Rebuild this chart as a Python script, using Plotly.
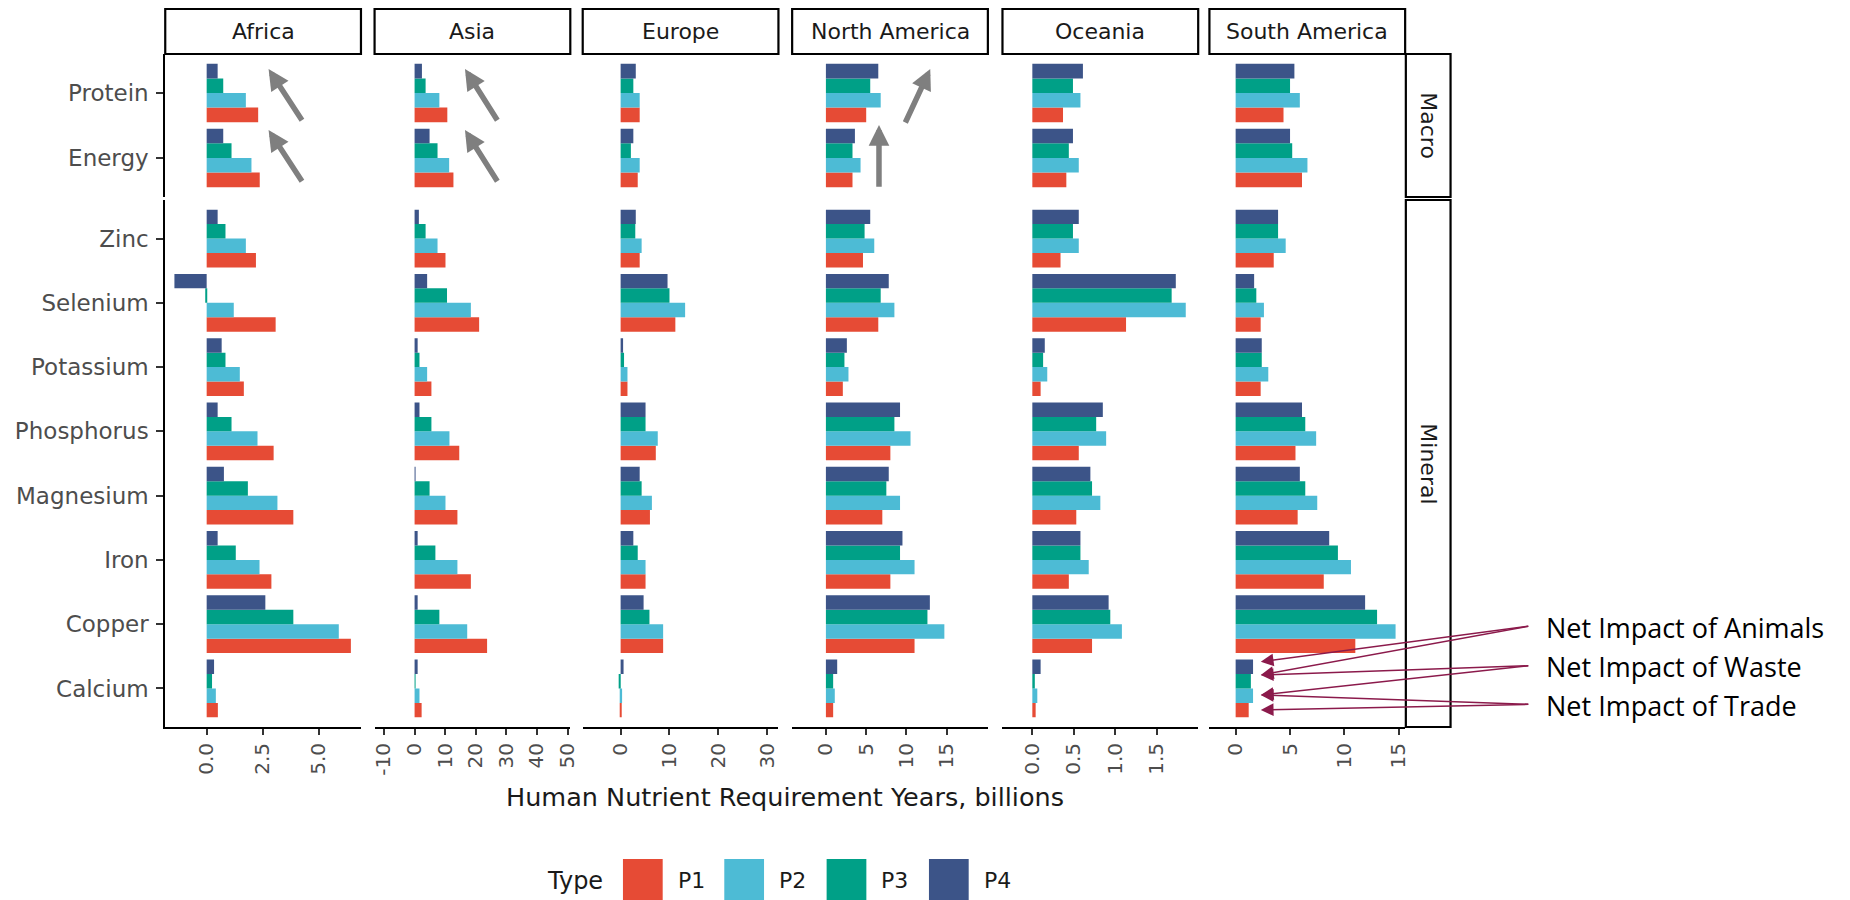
import plotly.graph_objects as go

W, H = 1850, 900

# ---- data -------------------------------------------------------------
regions = ["Africa", "Asia", "Europe", "North America", "Oceania", "South America"]
types = ["P1", "P2", "P3", "P4"]
type_colors = ["#E64B35", "#4DBBD5", "#00A087", "#3C5488"]

macro = ["Protein", "Energy"]
mineral = ["Zinc", "Selenium", "Potassium", "Phosphorus", "Magnesium",
           "Iron", "Copper", "Calcium"]
nutrients = macro + mineral

# values follow the order of `nutrients`
africa_p1 = [2.30, 2.37, 2.20, 3.08, 1.66, 2.99, 3.87, 2.89, 6.44, 0.50]
africa_p2 = [1.75, 2.00, 1.75, 1.21, 1.48, 2.27, 3.16, 2.36, 5.90, 0.41]
africa_p3 = [0.74, 1.11, 0.84, -0.05, 0.84, 1.11, 1.84, 1.30, 3.87, 0.24]
africa_p4 = [0.49, 0.74, 0.49, -1.44, 0.67, 0.49, 0.77, 0.49, 2.62, 0.33]

asia_p1 = [10.7, 12.7, 10.1, 21.1, 5.5, 14.6, 14.0, 18.4, 23.7, 2.3]
asia_p2 = [8.1, 11.3, 7.5, 18.4, 4.1, 11.4, 10.1, 14.0, 17.2, 1.6]
asia_p3 = [3.6, 7.5, 3.6, 10.6, 1.6, 5.5, 4.9, 6.8, 8.1, 0.2]
asia_p4 = [2.4, 4.9, 1.4, 4.1, 1.0, 1.6, 0.3, 1.0, 1.0, 1.0]

europe_p1 = [3.9, 3.5, 3.9, 11.2, 1.4, 7.2, 6.0, 5.1, 8.7, 0.15]
europe_p2 = [3.9, 3.9, 4.3, 13.2, 1.4, 7.6, 6.4, 5.1, 8.7, 0.3]
europe_p3 = [2.6, 2.1, 3.0, 10.0, 0.7, 5.1, 4.3, 3.5, 5.9, -0.4]
europe_p4 = [3.1, 2.6, 3.1, 9.6, 0.5, 5.1, 3.9, 2.6, 4.7, 0.6]

north_america_p1 = [5.0, 3.3, 4.6, 6.5, 2.1, 8.0, 7.0, 8.0, 11.0, 0.9]
north_america_p2 = [6.8, 4.3, 6.0, 8.5, 2.8, 10.5, 9.2, 11.0, 14.7, 1.1]
north_america_p3 = [5.5, 3.3, 4.8, 6.8, 2.3, 8.5, 7.5, 9.2, 12.6, 0.9]
north_america_p4 = [6.5, 3.6, 5.5, 7.8, 2.6, 9.2, 7.8, 9.5, 12.9, 1.4]

oceania_p1 = [0.37, 0.41, 0.34, 1.13, 0.10, 0.56, 0.53, 0.44, 0.72, 0.04]
oceania_p2 = [0.58, 0.56, 0.56, 1.85, 0.18, 0.89, 0.82, 0.68, 1.08, 0.06]
oceania_p3 = [0.49, 0.44, 0.49, 1.68, 0.13, 0.77, 0.72, 0.58, 0.94, 0.03]
oceania_p4 = [0.61, 0.49, 0.56, 1.73, 0.15, 0.85, 0.70, 0.58, 0.92, 0.10]

south_america_p1 = [4.4, 6.1, 3.5, 2.3, 2.3, 5.5, 5.7, 8.1, 11.0, 1.2]
south_america_p2 = [5.9, 6.6, 4.6, 2.6, 3.0, 7.4, 7.5, 10.6, 14.7, 1.6]
south_america_p3 = [5.0, 5.2, 3.9, 1.9, 2.4, 6.4, 6.4, 9.4, 13.0, 1.4]
south_america_p4 = [5.4, 5.0, 3.9, 1.7, 2.4, 6.1, 5.9, 8.6, 11.9, 1.6]

series = {
    "Africa": [africa_p1, africa_p2, africa_p3, africa_p4],
    "Asia": [asia_p1, asia_p2, asia_p3, asia_p4],
    "Europe": [europe_p1, europe_p2, europe_p3, europe_p4],
    "North America": [north_america_p1, north_america_p2, north_america_p3, north_america_p4],
    "Oceania": [oceania_p1, oceania_p2, oceania_p3, oceania_p4],
    "South America": [south_america_p1, south_america_p2, south_america_p3, south_america_p4],
}

# x tick positions / labels per column
africa_ticks = [0, 2.5, 5.0]
africa_ticktext = ["0.0", "2.5", "5.0"]
asia_ticks = [-10, 0, 10, 20, 30, 40, 50]
asia_ticktext = ["-10", "0", "10", "20", "30", "40", "50"]
europe_ticks = [0, 10, 20, 30]
europe_ticktext = ["0", "10", "20", "30"]
north_america_ticks = [0, 5, 10, 15]
north_america_ticktext = ["0", "5", "10", "15"]
oceania_ticks = [0, 0.5, 1.0, 1.5]
oceania_ticktext = ["0.0", "0.5", "1.0", "1.5"]
south_america_ticks = [0, 5, 10, 15]
south_america_ticktext = ["0", "5", "10", "15"]

x_ticks = [africa_ticks, asia_ticks, europe_ticks, north_america_ticks,
           oceania_ticks, south_america_ticks]
x_ticktext = [africa_ticktext, asia_ticktext, europe_ticktext,
              north_america_ticktext, oceania_ticktext, south_america_ticktext]
x_ranges = [[-1.85, 6.89], [-13.08, 50.9], [-7.76, 32.3],
            [-4.19, 20.1], [-0.36, 2.0], [-2.41, 15.58]]

row_labels = ["Macro", "Mineral"]
x_title = "Human Nutrient Requirement Years, billions"
callouts = ["Net Impact of Animals", "Net Impact of Waste", "Net Impact of Trade"]

# ---- layout geometry (pixels) ------------------------------------------
col_left = [163.3, 374.0, 583.5, 794.3, 1006.0, 1214.3]
col_w = 197.0
rows = [(54.0, 197.0, macro), (200.0, 727.0, mineral)]
strip_top = 9.0
strip_right = (1412.0, 1457.0)

FONT = "DejaVu Sans"
TXT = "#4D4D4D"


def fx(px):
    return px / W


def fy(py):
    return 1 - py / H


fig = go.Figure()
layout = dict(
    width=W, height=H,
    margin=dict(l=0, r=0, t=0, b=0),
    paper_bgcolor="white", plot_bgcolor="white",
    barmode="group", bargap=0.1, bargroupgap=0.0,
    showlegend=False,
    font=dict(family=FONT, color=TXT),
)

for r, (top, bottom, cats) in enumerate(rows):
    for c, region in enumerate(regions):
        k = r * 6 + c + 1
        xname = "x" if k == 1 else f"x{k}"
        yname = "y" if k == 1 else f"y{k}"
        for t, (tname, color) in enumerate(zip(types, type_colors)):
            vals = series[region][t]
            xs = [vals[nutrients.index(n)] for n in cats]
            fig.add_trace(go.Bar(
                y=cats, x=xs, orientation="h", name=tname,
                marker=dict(color=color, line=dict(width=0)),
                xaxis=xname, yaxis=yname, showlegend=False,
            ))
        bottom_row = (r == len(rows) - 1)
        xa = dict(
            domain=[fx(col_left[c]), fx(col_left[c] + col_w)],
            anchor=yname, range=x_ranges[c],
            showgrid=False, zeroline=False, fixedrange=True,
        )
        if bottom_row:
            xa.update(
                showline=True, linecolor="black", linewidth=2,
                ticks="outside", ticklen=6, tickwidth=1.5, tickcolor="#333333",
                tickmode="array", tickvals=x_ticks[c], ticktext=x_ticktext[c],
                tickangle=-90, tickfont=dict(family=FONT, size=20, color=TXT),
            )
        else:
            xa.update(visible=False)
        ya = dict(
            domain=[fy(bottom), fy(top)], anchor=xname,
            type="category", categoryorder="array",
            categoryarray=list(reversed(cats)),
            range=[-0.6, len(cats) - 0.4],
            showgrid=False, zeroline=False, fixedrange=True,
        )
        if c == 0:
            ya.update(
                showline=True, linecolor="black", linewidth=2,
                ticks="outside", ticklen=7, tickwidth=1.5, tickcolor="#333333",
                tickfont=dict(family=FONT, size=23, color=TXT),
                ticklabelstandoff=3,
            )
        else:
            ya.update(showticklabels=False, ticks="", showline=False)
        layout["xaxis" if k == 1 else f"xaxis{k}"] = xa
        layout["yaxis" if k == 1 else f"yaxis{k}"] = ya

shapes = []
annotations = []

# facet strips (columns)
for c, region in enumerate(regions):
    x0, x1 = col_left[c], col_left[c] + col_w
    shapes.append(dict(type="rect", xref="paper", yref="paper",
                       x0=fx(x0), x1=fx(x1), y0=fy(rows[0][0]), y1=fy(strip_top),
                       line=dict(color="black", width=2.2), fillcolor="white",
                       layer="below"))
    annotations.append(dict(text=region, xref="paper", yref="paper",
                            x=fx((x0 + x1) / 2), y=fy((strip_top + rows[0][0]) / 2),
                            showarrow=False, xanchor="center", yanchor="middle",
                            font=dict(family=FONT, size=22, color="#1A1A1A")))

# facet strips (rows)
for (top, bottom, _), label in zip(rows, row_labels):
    shapes.append(dict(type="rect", xref="paper", yref="paper",
                       x0=fx(strip_right[0]), x1=fx(strip_right[1]),
                       y0=fy(bottom), y1=fy(top),
                       line=dict(color="black", width=2.2), fillcolor="white",
                       layer="below"))
    annotations.append(dict(text=label, xref="paper", yref="paper",
                            x=fx(sum(strip_right) / 2), y=fy((top + bottom) / 2),
                            textangle=90, showarrow=False,
                            xanchor="center", yanchor="middle",
                            font=dict(family=FONT, size=22, color="#1A1A1A")))

# shared x-axis title
annotations.append(dict(text=x_title, xref="paper", yref="paper",
                        x=fx(787), y=fy(797), showarrow=False,
                        xanchor="center", yanchor="middle",
                        font=dict(family=FONT, size=25.5, color="#1A1A1A")))

# legend drawn as keys + labels
annotations.append(dict(text="Type", xref="paper", yref="paper",
                        x=fx(546), y=fy(881), showarrow=False,
                        xanchor="left", yanchor="middle",
                        font=dict(family=FONT, size=24, color="#1A1A1A")))
key_left = [624, 726, 829, 932]
for kx, tname, color in zip(key_left, types, type_colors):
    shapes.append(dict(type="rect", xref="paper", yref="paper",
                       x0=fx(kx), x1=fx(kx + 40), y0=fy(904), y1=fy(859),
                       line=dict(width=0), fillcolor=color))
    annotations.append(dict(text=tname, xref="paper", yref="paper",
                            x=fx(kx + 53), y=fy(880), showarrow=False,
                            xanchor="left", yanchor="middle",
                            font=dict(family=FONT, size=22, color="#1A1A1A")))

# grey highlight arrows: (head, tail) in pixels
grey_arrows = [
    ((267.3, 69.0), (301.7, 121.7)),
    ((267.3, 130.0), (301.7, 182.7)),
    ((465.0, 69.0), (498.3, 121.7)),
    ((465.0, 130.0), (498.3, 182.7)),
    ((881.7, 125.0), (881.7, 188.3)),
    ((933.3, 69.0), (907.7, 124.0)),
]
for (hx, hy), (tx, ty) in grey_arrows:
    annotations.append(dict(text="", xref="paper", yref="paper",
                            x=fx(hx), y=fy(hy), ax=tx - hx, ay=ty - hy,
                            axref="pixel", ayref="pixel", showarrow=True,
                            arrowhead=2, arrowsize=0.75, arrowwidth=5.5,
                            arrowcolor="#7F7F7F", standoff=0))

# call-out arrows towards South America / Calcium
MAROON = "#8B1A4B"
label_y = [626.0, 665.7, 704.3]
head_y = {"P4": 661.7, "P3": 675.0, "P2": 695.0, "P1": 710.0}
targets = [("P4", "P3"), ("P3", "P2"), ("P2", "P1")]
for text, ly, pair in zip(callouts, label_y, targets):
    for tname in pair:
        hy = head_y[tname]
        annotations.append(dict(text="", xref="paper", yref="paper",
                                x=fx(1266), y=fy(hy), ax=1535 - 1266, ay=ly - hy,
                                axref="pixel", ayref="pixel", showarrow=True,
                                arrowhead=2, arrowsize=1.7, arrowwidth=1.5,
                                arrowcolor=MAROON, standoff=0))
    annotations.append(dict(text=text, xref="paper", yref="paper",
                            x=fx(1551), y=fy(ly + 1), showarrow=False,
                            xanchor="left", yanchor="middle",
                            font=dict(family="Open Sans", size=27, color="black")))

layout["shapes"] = shapes
layout["annotations"] = annotations
fig.update_layout(**layout)

fig.write_html("out.html")
